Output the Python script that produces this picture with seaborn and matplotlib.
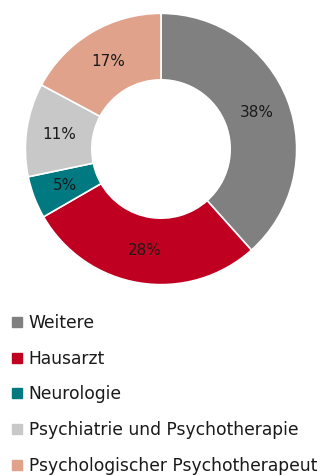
import matplotlib
matplotlib.use("Agg")
import matplotlib.pyplot as plt
from matplotlib.lines import Line2D
import seaborn as sns

categories = ["Weitere", "Hausarzt", "Neurologie",
              "Psychiatrie und Psychotherapie", "Psychologischer Psychotherapeut"]
shares = [38, 28, 5, 11, 17]
colors = ["#808080", "#C00021", "#007A80", "#C8C8C8", "#E0A28B"]

sns.set_theme(style="white")
plt.rcParams["font.family"] = ["DejaVu Sans"]

fig = plt.figure(figsize=(3.2, 4.75), dpi=100)
W, H = 320, 475
cx, cy, r = 161, 149, 137
ax = fig.add_axes([(cx - r) / W, (H - cy - r) / H, 2 * r / W, 2 * r / H])

vals = iter(shares)
wedges, _, autotexts = ax.pie(
    shares,
    colors=colors,
    startangle=90,
    counterclock=False,
    radius=1.0,
    autopct=lambda p: f"{next(vals)}%",
    pctdistance=0.755,
    wedgeprops=dict(width=0.49, edgecolor="white", linewidth=1.2),
    textprops=dict(fontsize=11, color="#1a1a1a"),
)
ax.set_xlim(-1.01, 1.01)
ax.set_ylim(-1.01, 1.01)
ax.set_aspect("equal")
ax.axis("off")

handles = [Line2D([0], [0], marker="s", linestyle="none", markersize=7.6,
                  markerfacecolor=c, markeredgecolor=c) for c in colors]
fig.legend(handles, categories, loc="upper left",
           bbox_to_anchor=(5.5 / W, (H - 309) / H), frameon=False,
           fontsize=12.3, handlelength=0.75, handletextpad=0.3,
           labelspacing=1.03, borderaxespad=0, borderpad=0.3,
           labelcolor="#1a1a1a")

fig.savefig("out.png", dpi=100)
